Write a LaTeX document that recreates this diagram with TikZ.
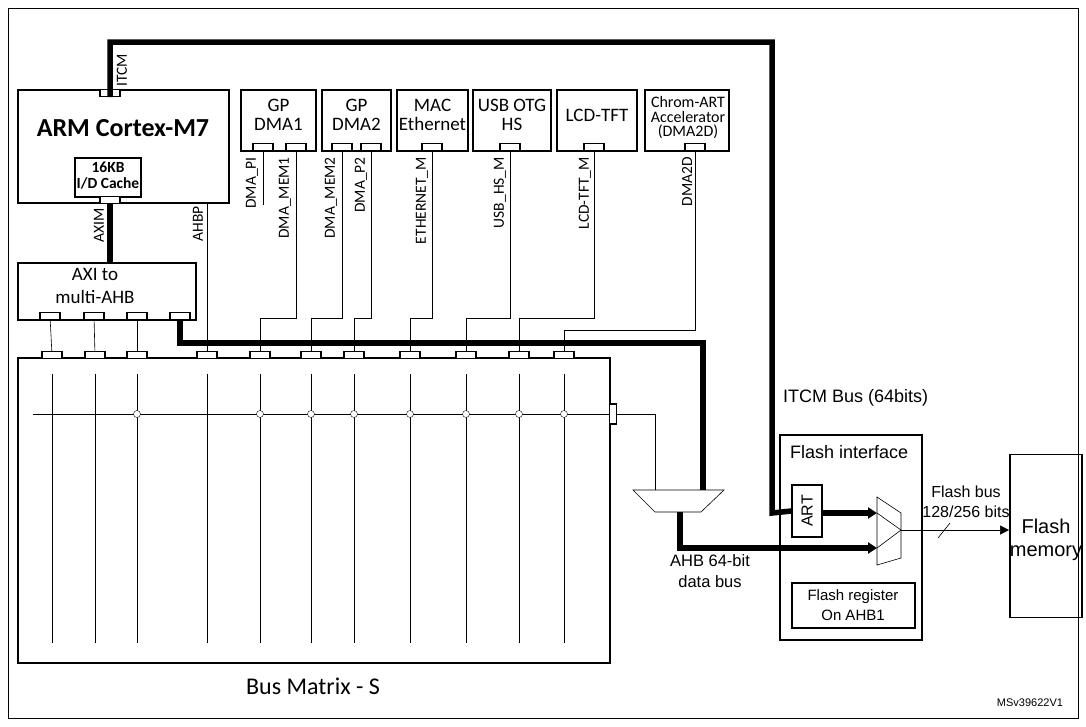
\documentclass[tikz,border=0pt]{standalone}
\usepackage{fontspec}
\setmainfont{Carlito}
\newfontfamily\arialf{Liberation Sans}
\usetikzlibrary{arrows.meta,positioning}
\tikzset{%
   blk/.style={draw, line width=1.8pt, inner sep=0pt},
   port/.style={draw, line width=1.3pt, fill=white, minimum width=20pt, minimum height=7pt, inner sep=0pt},
   bus/.style={line width=5.5pt},
   wire/.style={line width=0.6pt},
   lbl/.style={rotate=90, font=\fontsize{15.5}{14}\selectfont, anchor=east, inner sep=1pt},
   txt/.style={font=\fontsize{21}{21}\selectfont, align=center},
   ar/.style={font=\arialf\fontsize{18}{21}\selectfont, align=center},
   jn/.style={circle, draw, fill=white, minimum size=7pt, inner sep=0pt},
}
\begin{document}
\begin{tikzpicture}[x=1pt, y=-1pt]
  \useasboundingbox (0,0) rectangle (1086,726);
  \draw[wire] (8,8) rectangle (1078,718);
  % cpu side
  \draw[blk] (18,90) rectangle (229,203);
  \node[font=\bfseries\fontsize{26}{26}\selectfont] (cpu) at (123,128) {ARM Cortex-M7};
  \draw[blk, line width=1.3pt] (75,158) rectangle (141,197);
  \node[font=\bfseries\fontsize{15.5}{16}\selectfont, align=center, inner sep=0pt] (cache) at (108,176) {16KB\\I/D Cache};
  \node[port] (pitcm) at (110,93) {};
  \node[port] (paxim) at (110,200) {};
  \draw[blk] (18,263) rectangle (196,320);
  \node[txt, font=\fontsize{19}{23}\selectfont] (axi) at (95,286) {AXI to\\multi-AHB};
  \foreach \i/\x in {1/50,2/94,3/137,4/180} \node[port] (a\i) at (\x,316) {};
  % masters
  \foreach \n/\l/\r/\t in {dma1/241/316/{GP\\DMA1}, dma2/322/391/{GP\\DMA2}, mac/397/468/{MAC\\Ethernet},
      usb/473/551/{USB OTG\\HS}, lcd/557/637/{LCD-TFT}, chrom/645/729/{}} {
    \draw[blk] (\l,90) rectangle (\r,151);
    \node[font=\fontsize{19}{19}\selectfont, align=center] (\n) at ({(\l+\r)/2},115) {\t};
  }
  \node[font=\fontsize{16}{14.5}\selectfont, align=center] (chromt) at (688,118) {Chrom-ART\\Accelerator\\(DMA2D)};
  \foreach \n/\x in {m1/263,m2/296,m3/342,m4/371,m5/432,m6/510,m7/594,m8/695} \node[port] (\n) at (\x,147) {};
  % bus matrix
  \draw[blk] (18,358) rectangle (610,663);
  \node[font=\fontsize{24}{24}\selectfont] (bm) at (313,686) {Bus Matrix - S};
  \draw[wire] (33,414) -- (610,414);
  \foreach \i/\x in {1/52,2/95,3/137,4/207,5/260,6/311,7/354,8/410,9/466,10/519,11/564} {
    \draw[wire] (\x,374) -- (\x,643);
    \node[port] (s\i) at (\x,355) {};
  }
  \foreach \x in {137,260,311,354,410,466,519,564} \node[jn] at (\x,414) {};
  \node[port, minimum width=7pt, minimum height=20pt] (sout) at (613,414) {};
  % connections
  \draw[wire] (a1) -- (s1);
  \draw[wire] (a2) -- (s2);
  \draw[wire] (a3) -- (s3);
  \draw[wire] (207,203) -- (s4);
  \draw[wire] (m1) -- (263,205);
  \foreach \m/\s/\y in {m2/s5/318, m3/s6/318, m4/s7/318, m5/s8/318, m6/s9/318, m7/s10/318, m8/s11/330}
    \draw[wire] (\m.south) -- ++(0,{\y-150.5}) -| (\s);
  \draw[bus] (paxim) -- (110,263);
  % labels
  \node[lbl, anchor=west] at (122,88) {ITCM};
  \node[lbl] at (99,207) {AXIM};
  \node[lbl] at (198,205) {AHBP};
  \foreach \x/\t in {252/DMA\_PI, 285/DMA\_MEM1, 331/DMA\_MEM2, 361/DMA\_P2, 422/ETHERNET\_M, 500/USB\_HS\_M, 585/LCD-TFT\_M, 687/DMA2D}
    \node[lbl] at (\x,156) {\t};
  % flash side
  \coordinate (muxtl) at (633,490);
  \draw[wire] (muxtl) -- (724,490) -- (701,512) -- (655,512) -- cycle;
  \draw[wire] (sout.east) -- (655,414) -- (655,490);
  \draw[bus] (a4) |- (703,343) -- (703,490);
  \draw[blk, line width=1.5pt] (780,435) rectangle (922,640);
  \node[ar, anchor=west, inner sep=0pt] (fi) at (790,452) {Flash interface};
  \draw[blk, line width=1.5pt] (792,583) rectangle (915,628);
  \node[ar, font=\arialf\fontsize{15}{20}\selectfont] (freg) at (853,605) {Flash register\\On AHB1};
  \node[blk, line width=1.5pt, minimum width=30pt, minimum height=52pt] (art) at (807,511) {};
  \node[ar, rotate=90, font=\arialf\fontsize{16}{16}\selectfont] at (art) {ART};
  \draw[wire] (877,497) -- (901,513) -- (901,558) -- (877,565) -- cycle;
  \draw[wire] (877,513) -- (901,530) -- (877,548);
  \coordinate (mo) at (901,530);
  \draw[bus] (110,97) -- (110,42) -- (772,42) -- (772,513) -- (art.west);
  \draw[bus, -{Triangle[length=9pt,width=11pt]}] (art.east |- 0,513) -- (877,513);
  \draw[bus, -{Triangle[length=9pt,width=11pt]}] (680,512) |- (877,548);
  \node[blk, minimum width=72pt, minimum height=163pt] (fm) at (1046,536) {};
  \node[ar, font=\arialf\fontsize{20}{23}\selectfont] at (1046,540) {Flash\\memory};
  \draw[wire, -{Triangle[length=9pt,width=9pt]}] (mo) -- (fm.west |- mo);
  \draw[wire] (938,538) -- (950,523);
  \node[ar, font=\arialf\fontsize{16}{20}\selectfont] (fb) at (966,502) {Flash bus\\128/256 bits};
  \node[ar, anchor=west, inner sep=0pt] (itcmb) at (783,398) {ITCM Bus (64bits)};
  \node[ar, font=\arialf\fontsize{16.5}{21}\selectfont] (ahb) at (710,571) {AHB 64-bit\\data bus};
  \node[font=\arialf\fontsize{11}{11}\selectfont] (ref) at (1030,703) {MSv39622V1};
\end{tikzpicture}
\end{document}
